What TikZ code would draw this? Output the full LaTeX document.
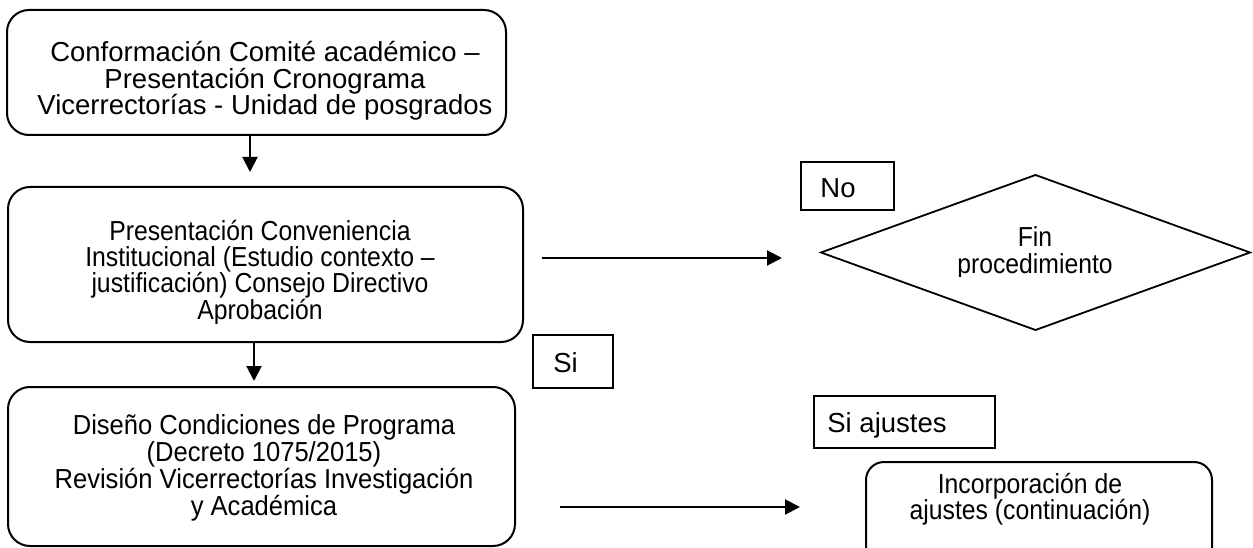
\documentclass[tikz,border=0pt]{standalone}
\usepackage{fontspec}
\setmainfont{Liberation Sans}
\newfontfamily\narrowfont[FakeStretch=0.9]{Liberation Sans}
\newfontfamily\semifont[FakeStretch=0.93]{Liberation Sans}
\usetikzlibrary{arrows.meta,shapes.geometric}
\begin{document}
\begin{tikzpicture}[x=1pt,y=-1pt,
  every node/.style={inner sep=0pt, outer sep=0pt},
  rbox/.style={draw, rectangle, line width=2pt, rounded corners=22pt},
  lbox/.style={draw, rectangle, line width=1.6pt},
  decision/.style={draw, diamond, line width=1.8pt},
  txt/.style={align=center, font=\fontsize{27.5}{26.3}\selectfont},
  ntxt/.style={align=center, font=\narrowfont\fontsize{27.5}{26.3}\selectfont},
  stxt/.style={align=center, font=\semifont\fontsize{27.5}{25.3}\selectfont},
  conn/.style={line width=2pt, -{Triangle[length=15pt,width=15pt]}}]
\useasboundingbox (0,0) rectangle (1253,548);
\fill[white] (0,0) rectangle (1253,548);
\clip (0,0) rectangle (1253,548);

% main boxes
\node[rbox, minimum width=499pt, minimum height=125pt] (b1) at (256.5,72.5) {};
\node[rbox, minimum width=515pt, minimum height=155pt] (b2) at (265.5,264.5) {};
\node[rbox, minimum width=507pt, minimum height=159pt] (b3) at (261.5,466.5) {};
\node[rbox, rounded corners=18pt, minimum width=346pt, minimum height=110pt] (b4) at (1039,517) {};
\node[decision, minimum width=429pt, minimum height=155pt] (d) at (1035.5,252.5) {};

% label boxes
\node[lbox, minimum width=93pt, minimum height=48pt] (no) at (847.5,186) {};
\node[lbox, minimum width=80pt, minimum height=53pt] (si) at (573,361.5) {};
\node[lbox, minimum width=181pt, minimum height=52pt] (sia) at (904.5,422) {};

% texts
\node[txt] (t1) at (265,81) {Conformación Comité académico –\\Presentación Cronograma\\Vicerrectorías - Unidad de posgrados};
\begin{scope}
\clip (20,195) rectangle (510,323);
\node[ntxt] (t2) at (260,272.5) {Presentación Conveniencia\\Institucional (Estudio contexto –\\justificación) Consejo Directivo\\Aprobación};
\end{scope}
\node[stxt] (t3) at (264,468) {Diseño Condiciones de Programa\\(Decreto 1075/2015)\\Revisión Vicerrectorías Investigación\\y Académica};
\node[ntxt] (t4) at (1030,499.5) {Incorporación de\\ajustes (continuación)};
\begin{scope}
\clip (900,215) rectangle (1170,276);
\node[ntxt] (td) at (1035,253) {Fin\\procedimiento};
\end{scope}
\node[txt] (tno) at (838,188) {No};
\node[txt] (tsi) at (565.5,363) {Si};
\node[txt] (tsia) at (887,425) {Si ajustes};

% connectors
\coordinate (a1e) at (250,172);
\coordinate (a2e) at (254,381);
\coordinate (a3s) at (542,258);
\coordinate (a3e) at (782,258);
\coordinate (a4s) at (560,507);
\coordinate (a4e) at (800,507);
\draw[conn] (b1.south -| a1e) -- (a1e);
\draw[conn] (b2.south -| a2e) -- (a2e);
\draw[conn] (a3s) -- (a3e);
\draw[conn] (a4s) -- (a4e);
\end{tikzpicture}
\end{document}
